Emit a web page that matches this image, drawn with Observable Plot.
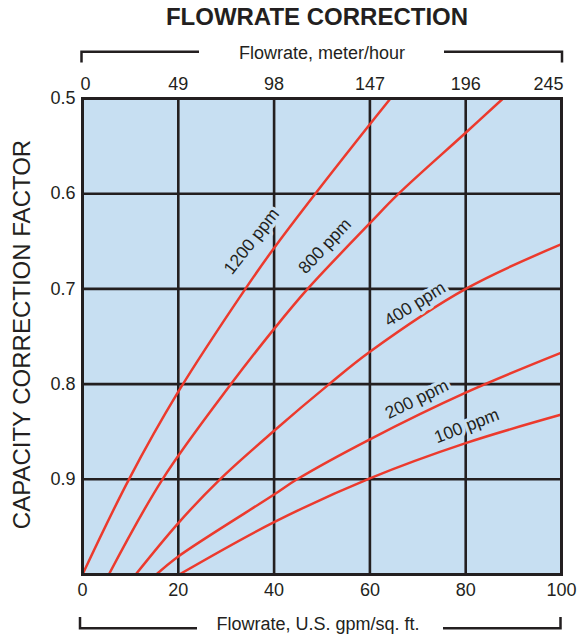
<!DOCTYPE html>
<html>
<head>
<meta charset="utf-8">
<script src="https://cdn.jsdelivr.net/npm/d3@7"></script>
<script src="https://cdn.jsdelivr.net/npm/@observablehq/plot@0.6"></script>
<style>
  html, body { margin: 0; padding: 0; background: white; }
  #chart svg { display: block; }
</style>
</head>
<body>
<div id="chart"></div>
<script>
// ---- data ----
const xTicks = [0, 20, 40, 60, 80, 100];               // U.S. gpm/sq. ft.
const topTickLabels = ["0", "49", "98", "147", "196", "245"]; // meter/hour
const yTicks = [0.5, 0.6, 0.7, 0.8, 0.9];

const series = ["1200 ppm", "800 ppm", "400 ppm", "200 ppm", "100 ppm"];

const gpm1200 = [0, 9.7, 20, 34, 40, 48.6, 60, 64.3];
const cf1200  = [1.0, 0.9, 0.808, 0.7, 0.657, 0.6, 0.527, 0.5];

const gpm800 = [5.5, 16.7, 31, 40, 47, 60, 66, 80, 87.8];
const cf800  = [1.0, 0.9, 0.8, 0.742, 0.7, 0.631, 0.6, 0.536, 0.5];

const gpm400 = [11.1, 20, 28.7, 40, 51.5, 60, 80, 100];
const cf400  = [1.0, 0.946, 0.9, 0.849, 0.8, 0.766, 0.70, 0.653];

const gpm200 = [15.4, 20, 40, 44.8, 60, 80, 100];
const cf200  = [1.0, 0.981, 0.916, 0.9, 0.858, 0.809, 0.767];

const gpm100 = [20.2, 40, 60, 80, 100];
const cf100  = [1.0, 0.945, 0.899, 0.862, 0.832];

// curve label anchors (data coordinates) and angles
const labelX     = [35.3, 50.6, 69.4, 69.8, 80.2];
const labelY     = [0.650, 0.655, 0.716, 0.816, 0.844];
const labelAngle = [-52, -47, -32, -26, -21];

// ---- build tables ----
const xs = [gpm1200, gpm800, gpm400, gpm200, gpm100];
const ys = [cf1200, cf800, cf400, cf200, cf100];
const rows = [];
series.forEach((s, i) => xs[i].forEach((x, j) => rows.push({series: s, gpm: x, cf: ys[i][j]})));
const labels = series.map((s, i) => ({text: s, x: labelX[i], y: labelY[i], angle: labelAngle[i]}));

const ink = "#231f20";
const bg = "#c7dff2";
const red = "#ec3a2d";
const font = "'Liberation Sans', Arial, Helvetica, sans-serif";

const chart = Plot.plot({
  width: 577,
  height: 636,
  marginTop: 98,
  marginBottom: 62,
  marginLeft: 82,
  marginRight: 16,
  x: {domain: [0, 100]},
  y: {domain: [0.5, 1.0], reverse: true},
  style: {fontFamily: font, fontSize: "18px", color: ink, background: "white"},
  marks: [
    Plot.frame({fill: bg}),
    Plot.gridX({ticks: [20, 40, 60, 80], stroke: ink, strokeOpacity: 1, strokeWidth: 2.6}),
    Plot.gridY({ticks: [0.6, 0.7, 0.8, 0.9], stroke: ink, strokeOpacity: 1, strokeWidth: 2.6}),
    Plot.line(rows, {x: "gpm", y: "cf", z: "series", stroke: red, strokeWidth: 2.5, curve: "catmull-rom"}),
    Plot.text(labels, {x: "x", y: "y", text: "text", rotate: "angle", fontSize: 17.5, fill: ink, stroke: bg, strokeWidth: 7}),
    Plot.frame({stroke: ink, strokeWidth: 3}),
    Plot.axisX({anchor: "bottom", ticks: xTicks, tickSize: 0, tickPadding: 9, fontSize: 18, label: null, tickFormat: d => String(d)}),
    Plot.axisX({anchor: "top", ticks: [20, 40, 60, 80], tickSize: 0, tickPadding: 9, fontSize: 18, label: null,
      tickFormat: d => topTickLabels[xTicks.indexOf(d)]}),
    Plot.axisX({anchor: "top", ticks: [0], tickSize: 0, tickPadding: 9, fontSize: 18, label: null, dx: 3,
      tickFormat: d => topTickLabels[xTicks.indexOf(d)]}),
    Plot.axisX({anchor: "top", ticks: [100], tickSize: 0, tickPadding: 9, fontSize: 18, label: null, dx: -13,
      tickFormat: d => topTickLabels[xTicks.indexOf(d)]}),
    Plot.axisY({anchor: "left", ticks: yTicks, tickSize: 0, tickPadding: 7, fontSize: 18, label: null, tickFormat: d3.format(".1f")})
  ]
});

document.getElementById("chart").appendChild(chart);

// ---- titles and brackets ----
const svg = d3.select(chart);
const deco = svg.append("g").attr("fill", "none").attr("stroke", ink).attr("stroke-width", 2.5);
deco.append("path").attr("d", "M81.5,62.5V51.7H199");
deco.append("path").attr("d", "M444,51.7H562V62.5");
deco.append("path").attr("d", "M80,617V628.3H197");
deco.append("path").attr("d", "M443,628.3H560.5V617");

const txt = svg.append("g").attr("fill", ink).attr("font-family", font);
txt.append("text").attr("x", 317).attr("y", 25).attr("text-anchor", "middle")
  .attr("font-size", 24).attr("font-weight", "bold").text("FLOWRATE CORRECTION");
txt.append("text").attr("x", 322).attr("y", 58.5).attr("text-anchor", "middle")
  .attr("font-size", 18).text("Flowrate, meter/hour");
txt.append("text").attr("x", 318).attr("y", 629.5).attr("text-anchor", "middle")
  .attr("font-size", 18).text("Flowrate, U.S. gpm/sq. ft.");
txt.append("text").attr("transform", "translate(29.5,334.5) rotate(-90)").attr("text-anchor", "middle")
  .attr("font-size", 24).text("CAPACITY CORRECTION FACTOR");
</script>
</body>
</html>
